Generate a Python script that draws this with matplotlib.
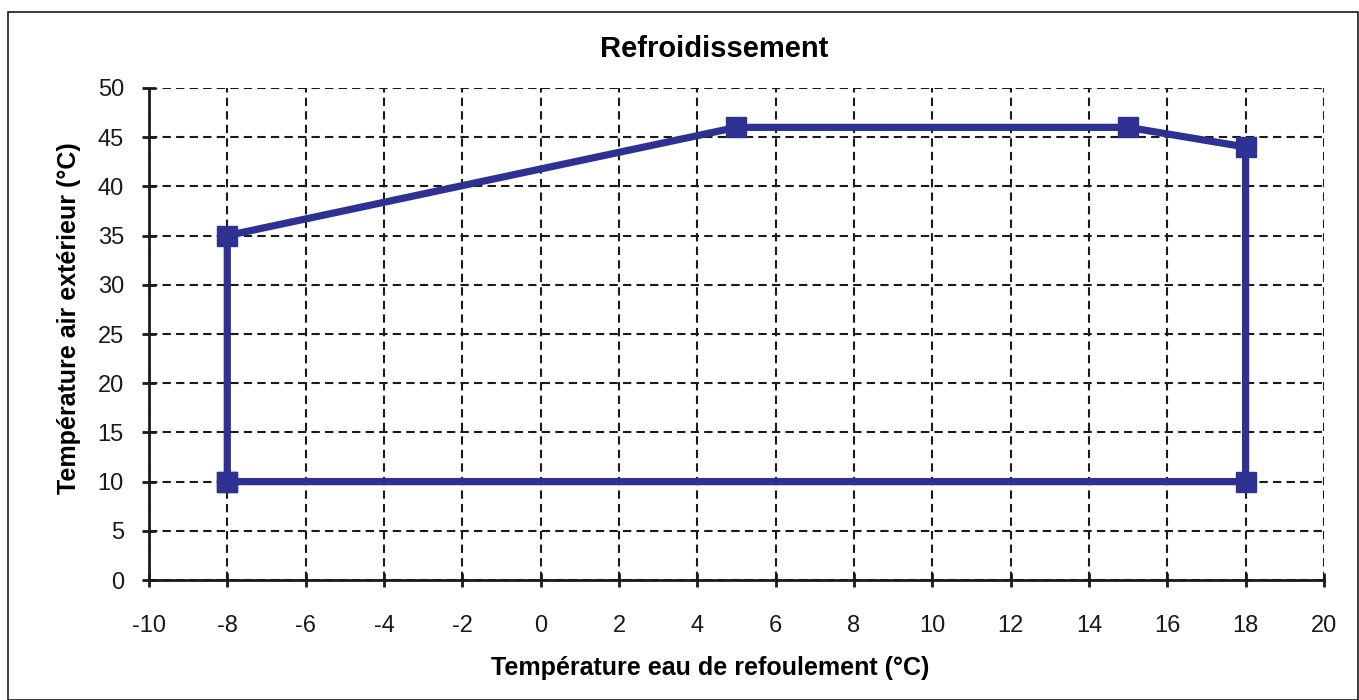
import matplotlib
matplotlib.use("Agg")
import matplotlib.pyplot as plt
from matplotlib.patches import Rectangle

plt.rcParams["font.family"] = ["Liberation Sans", "DejaVu Sans"]
plt.rcParams["axes.unicode_minus"] = False

# Enveloppe de fonctionnement en refroidissement
eau_refoulement = [-8, -8, 5, 15, 18, 18, -8]
air_exterieur = [10, 35, 46, 46, 44, 10, 10]

x_ticks = list(range(-10, 21, 2))
y_ticks = list(range(0, 51, 5))

fig = plt.figure(figsize=(13.59, 7.0), dpi=100)
ax = fig.add_axes([0.1096, 0.1714, 0.8646, 0.7029])

ax.plot(eau_refoulement, air_exterieur, color="#2E3192", lw=5.2,
        marker="s", markersize=15, solid_joinstyle="miter", zorder=3)

ax.set_xlim(-10, 20)
ax.set_ylim(0, 50)
ax.set_xticks(x_ticks)
ax.set_yticks(y_ticks)
ax.grid(True, color="#1a1a1a", ls=(0, (4, 2.5)), lw=1.5)
for s in ("top", "right"):
    ax.spines[s].set_visible(False)
for s in ("left", "bottom"):
    ax.spines[s].set_linewidth(2)
    ax.spines[s].set_color("#1a1a1a")
ax.tick_params(direction="inout", length=10, width=2, color="#1a1a1a",
               labelsize=17, labelcolor="#1a1a1a")
ax.tick_params(axis="y", pad=13)
ax.tick_params(axis="x", pad=20)

ax.set_title("Refroidissement", fontsize=21, fontweight="bold", pad=22,
             x=0.481)
ax.set_xlabel("Température eau de refoulement (°C)", fontsize=18,
              fontweight="bold", labelpad=14)
ax.xaxis.set_label_coords(0.478, -0.155)
ax.set_ylabel("Température air extérieur (°C)", fontsize=18,
              fontweight="bold", labelpad=12)
ax.yaxis.label.set_y(0.533)

fig.patches.append(Rectangle((8 / 1359, 0.0), 1 - 9 / 1359, 1 - 12 / 700,
                             transform=fig.transFigure, fill=False,
                             edgecolor="#1a1a1a", lw=1.2))

fig.savefig("out.png", dpi=100)
